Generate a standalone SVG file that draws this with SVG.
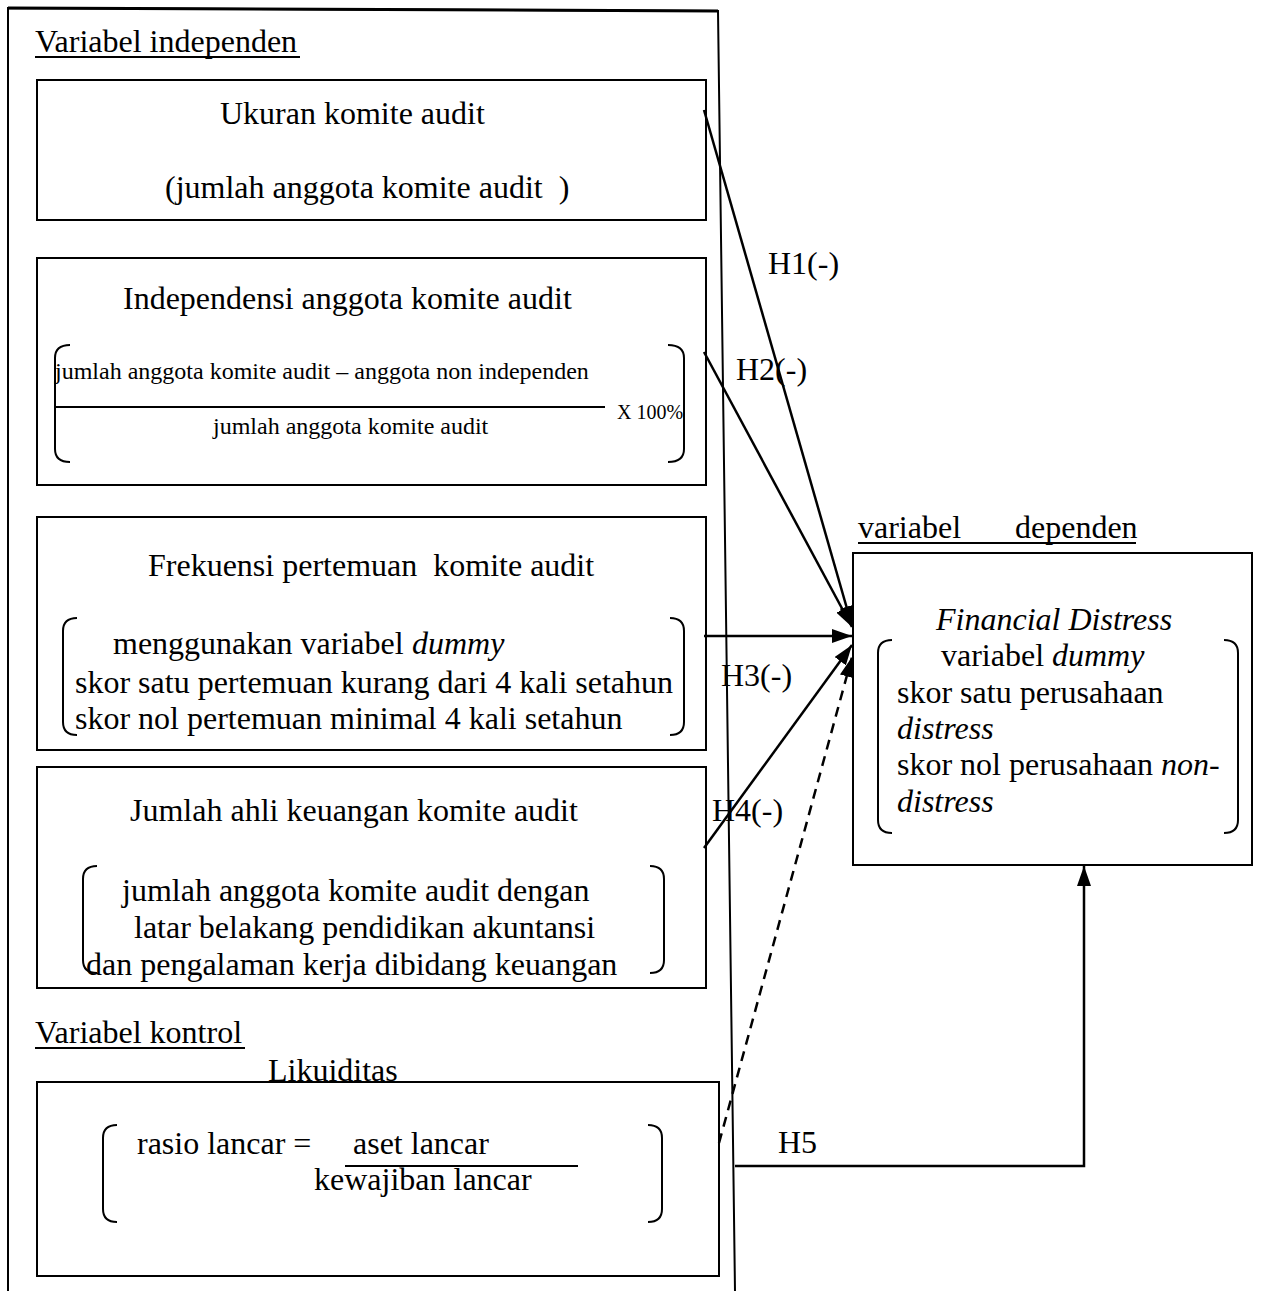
<svg xmlns="http://www.w3.org/2000/svg" width="1261" height="1291" viewBox="0 0 1261 1291">
<defs>
<marker id="ah" viewBox="0 0 20 14" refX="20" refY="7" markerWidth="20" markerHeight="14" markerUnits="userSpaceOnUse" orient="auto">
<path d="M0,0 L20,7 L0,14 Z" fill="#000"/>
</marker>
<style>
text{font-family:"Liberation Serif","Times New Roman",serif;fill:#000;white-space:pre}
.t{font-size:32px}
.s{font-size:24px}
.xs{font-size:20px}
.i{font-style:italic}
.box{fill:#fff;stroke:#000;stroke-width:2}
.br{fill:none;stroke:#000;stroke-width:2}
.frame{fill:none;stroke:#000;stroke-width:2}
.ul{stroke:#000;stroke-width:2}
.c{fill:none;stroke:#000;stroke-width:2.5}
.d{fill:none;stroke:#000;stroke-width:2.5;stroke-dasharray:10 7}
</style>
</defs>
<rect width="1261" height="1291" fill="#fff"/>
<g id="frame">
<path class="frame" d="M8,1291 L8,8 L718,11 L735,1291"/>
<line x1="8" y1="8" x2="718" y2="11" stroke="#000" stroke-width="3"/>
</g>
<g id="label-independen">
<text class="t" x="35" y="52">Variabel independen</text>
<line class="ul" x1="35" y1="57" x2="300" y2="57"/>
</g>
<g id="node-ukuran">
<rect class="box" x="37" y="80" width="669" height="140"/>
<text class="t" x="220" y="124">Ukuran komite audit</text>
<text class="t" x="165" y="198">(jumlah anggota komite audit  )</text>
</g>
<g id="node-independensi">
<rect class="box" x="37" y="258" width="669" height="227"/>
<text class="t" x="123" y="309">Independensi anggota komite audit</text>
<path class="br" d="M70,345 Q55,345 55,358 L55,449 Q55,462 70,462"/>
<path class="br" d="M668,345 Q684,345 684,358 L684,449 Q684,462 668,462"/>
<text class="s" x="55" y="379">jumlah anggota komite audit – anggota non independen</text>
<line class="ul" x1="55" y1="407" x2="605" y2="407"/>
<text class="xs" x="617" y="419">X 100%</text>
<text class="s" x="213" y="434">jumlah anggota komite audit</text>
</g>
<g id="node-frekuensi">
<rect class="box" x="37" y="517" width="669" height="233"/>
<text class="t" x="148" y="576">Frekuensi pertemuan  komite audit</text>
<path class="br" d="M77,618 Q63,618 63,631 L63,722 Q63,735 77,735"/>
<path class="br" d="M670,618 Q684,618 684,631 L684,722 Q684,735 670,735"/>
<text class="t" x="113" y="654">menggunakan variabel</text>
<text class="t i" x="412" y="654">dummy</text>
<text class="t" x="75" y="693">skor satu pertemuan kurang dari 4 kali setahun</text>
<text class="t" x="75" y="729">skor nol pertemuan minimal 4 kali setahun</text>
</g>
<g id="node-ahli">
<rect class="box" x="37" y="767" width="669" height="221"/>
<text class="t" x="130" y="821">Jumlah ahli keuangan komite audit</text>
<path class="br" d="M97,866 Q83,866 83,879 L83,960 Q83,973 97,973"/>
<path class="br" d="M650,866 Q664,866 664,879 L664,960 Q664,973 650,973"/>
<text class="t" x="122" y="901">jumlah anggota komite audit dengan</text>
<text class="t" x="134" y="938">latar belakang pendidikan akuntansi</text>
<text class="t" x="86" y="975">dan pengalaman kerja dibidang keuangan</text>
</g>
<g id="label-kontrol">
<text class="t" x="35" y="1043">Variabel kontrol</text>
<line class="ul" x1="35" y1="1048" x2="245" y2="1048"/>
</g>
<g id="node-likuiditas">
<rect class="box" x="37" y="1082" width="682" height="194"/>
<text class="t" x="268" y="1081">Likuiditas</text>
<path class="br" d="M117,1125 Q103,1125 103,1138 L103,1209 Q103,1222 117,1222"/>
<path class="br" d="M648,1125 Q662,1125 662,1138 L662,1209 Q662,1222 648,1222"/>
<text class="t" x="137" y="1154">rasio lancar =</text>
<text class="t" x="353" y="1154">aset lancar</text>
<line class="ul" x1="345" y1="1166" x2="578" y2="1166"/>
<text class="t" x="314" y="1190">kewajiban lancar</text>
</g>
<g id="node-financial-distress">
<text class="t" x="858" y="538">variabel</text>
<text class="t" x="1015" y="538">dependen</text>
<line class="ul" x1="858" y1="543" x2="1136" y2="543"/>
<rect class="box" x="853" y="553" width="399" height="312"/>
<text class="t i" x="936" y="630">Financial Distress</text>
<path class="br" d="M892,640 Q878,640 878,653 L878,820 Q878,833 892,833"/>
<path class="br" d="M1224,640 Q1238,640 1238,653 L1238,820 Q1238,833 1224,833"/>
<text class="t" x="941" y="666">variabel</text>
<text class="t i" x="1052" y="666">dummy</text>
<text class="t" x="897" y="703">skor satu perusahaan</text>
<text class="t i" x="897" y="739">distress</text>
<text class="t" x="897" y="775">skor nol perusahaan</text>
<text class="t i" x="1161" y="775">non-</text>
<text class="t i" x="897" y="812">distress</text>
</g>
<g id="connectors">
<line class="c" x1="704" y1="110" x2="852" y2="626" marker-end="url(#ah)"/>
<line class="c" x1="704" y1="352" x2="852" y2="627" marker-end="url(#ah)"/>
<line class="c" x1="704" y1="636" x2="852" y2="636" marker-end="url(#ah)"/>
<line class="c" x1="704" y1="848" x2="852" y2="645" marker-end="url(#ah)"/>
<line class="d" x1="719" y1="1143" x2="852" y2="657" marker-end="url(#ah)"/>
<path class="c" d="M735,1166 L1084,1166 L1084,866" marker-end="url(#ah)"/>
<text class="t" x="768" y="274">H1(-)</text>
<text class="t" x="736" y="380">H2(-)</text>
<text class="t" x="721" y="686">H3(-)</text>
<text class="t" x="712" y="821">H4(-)</text>
<text class="t" x="778" y="1153">H5</text>
</g>
</svg>
